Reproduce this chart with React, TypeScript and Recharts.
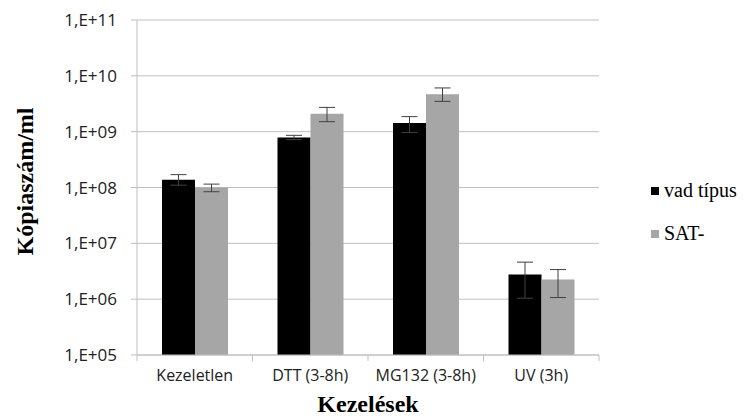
import { BarChart, Bar, CartesianGrid, XAxis, YAxis, ErrorBar } from "recharts";

const categories = ["Kezeletlen", "DTT (3-8h)", "MG132 (3-8h)", "UV (3h)"];

// bar heights (copies/ml)
const wildType = [1.37e8, 7.9e8, 1.43e9, 2.76e6];
const satMinus = [1.0e8, 2.1e9, 4.66e9, 2.24e6];

// error bar ends
const wildLow = [1.1e8, 7.2e8, 0.97e9, 1.04e6];
const wildHigh = [1.7e8, 8.6e8, 1.86e9, 4.6e6];
const satLow = [0.84e8, 1.51e9, 3.49e9, 1.07e6];
const satHigh = [1.15e8, 2.72e9, 6.07e9, 3.39e6];

const yTicks = [1e5, 1e6, 1e7, 1e8, 1e9, 1e10, 1e11];

const seriesNames = ["vad típus", "SAT-"];
const seriesColors = ["#000000", "#a6a6a6"];

const W = 745;
const H = 419;
const M = { top: 20, right: 146, bottom: 0, left: 0 };
const X_AXIS_H = 64;
const Y_AXIS_W = 137;
const band = (W - M.left - M.right - Y_AXIS_W) / categories.length;

const data = categories.map((name, i) => ({
  name,
  wild: wildType[i],
  sat: satMinus[i],
  wildErr: [wildType[i] - wildLow[i], wildHigh[i] - wildType[i]],
  satErr: [satMinus[i] - satLow[i], satHigh[i] - satMinus[i]],
}));

const fmt = (v: number) => {
  const e = Math.round(Math.log10(v));
  return "1,E+" + (e < 10 ? "0" + e : String(e));
};

const titleStyle = { fontFamily: "Liberation Serif", fontWeight: "bold", fontSize: 24, fill: "#000" } as const;

function XTick(props: any) {
  const { x, y, payload, index } = props;
  const left = x - band / 2;
  return (
    <g>
      <line x1={left} x2={left} y1={y - 8} y2={y - 2} stroke="#bfbfbf" />
      {index === categories.length - 1 && (
        <line x1={x + band / 2} x2={x + band / 2} y1={y - 8} y2={y - 2} stroke="#bfbfbf" />
      )}
      <text x={x} y={y + 18} textAnchor="middle" fontSize={16} fontFamily="Open Sans" fill="#222">
        {payload.value}
      </text>
    </g>
  );
}

function YTitle(props: any) {
  const vb = props.viewBox;
  const cx = 25;
  const cy = vb.y + vb.height / 2 - 6;
  return (
    <text x={cx} y={cy} transform={`rotate(-90 ${cx} ${cy})`} textAnchor="middle" dominantBaseline="central" style={titleStyle}>
      Kópiaszám/ml
    </text>
  );
}

function XTitle(props: any) {
  const vb = props.viewBox;
  return (
    <text x={vb.x + vb.width / 2} y={412} textAnchor="middle" style={titleStyle}>
      Kezelések
    </text>
  );
}

function LegendBox() {
  return (
    <div style={{ position: "absolute", left: 651, top: 169, fontFamily: "Liberation Serif", fontSize: 20, color: "#000" }}>
      {seriesNames.map((n, i) => (
        <div key={n} style={{ display: "flex", alignItems: "center", height: 43 }}>
          <span style={{ width: 8, height: 8, background: seriesColors[i], marginRight: 5 }} />
          <span>{n}</span>
        </div>
      ))}
    </div>
  );
}

export default function App() {
  return (
    <div style={{ position: "absolute", left: 0, top: 0, width: W, height: H, background: "#fff" }}>
      <BarChart width={W} height={H} data={data} margin={M} barGap={0} barCategoryGap={25}>
        <CartesianGrid vertical={false} stroke="#c0c0c0" />
        <XAxis
          dataKey="name"
          axisLine={{ stroke: "#bfbfbf" }}
          tickLine={false}
          tick={<XTick />}
          interval={0}
          height={X_AXIS_H}
          label={<XTitle />}
        />
        <YAxis
          scale="log"
          domain={[1e5, 1e11]}
          ticks={yTicks}
          allowDataOverflow
          width={Y_AXIS_W}
          tickFormatter={fmt}
          tickSize={6}
          tickMargin={14}
          axisLine={{ stroke: "#bfbfbf" }}
          tickLine={{ stroke: "#bfbfbf" }}
          tick={{ fontFamily: "Open Sans", fontSize: 17, fill: "#222" }}
          label={<YTitle />}
        />
        <Bar dataKey="wild" name={seriesNames[0]} fill={seriesColors[0]} isAnimationActive={false}>
          <ErrorBar dataKey="wildErr" width={8} stroke="#404040" strokeWidth={1} />
        </Bar>
        <Bar dataKey="sat" name={seriesNames[1]} fill={seriesColors[1]} isAnimationActive={false}>
          <ErrorBar dataKey="satErr" width={8} stroke="#404040" strokeWidth={1} />
        </Bar>
      </BarChart>
      <LegendBox />
    </div>
  );
}
